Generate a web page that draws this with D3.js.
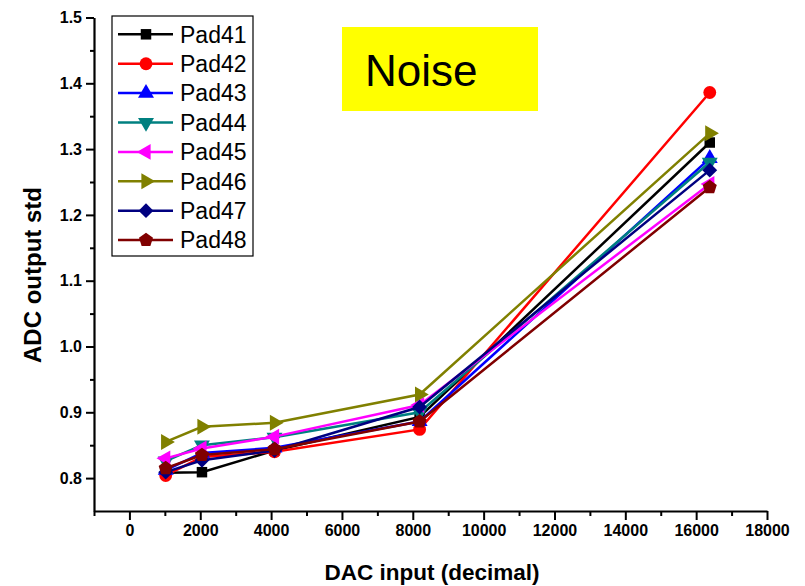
<!DOCTYPE html>
<html>
<head>
<meta charset="utf-8">
<script src="https://cdn.jsdelivr.net/npm/d3@7"></script>
<style>
  body { margin: 0; background: #fff; }
  text { font-family: "Liberation Sans", Arial, sans-serif; }
</style>
</head>
<body>
<div id="chart"></div>
<script>
// DAC input values
var dacInputs = [1024, 2048, 4096, 8192, 16384];

var padNames = ["Pad41", "Pad42", "Pad43", "Pad44", "Pad45", "Pad46", "Pad47", "Pad48"];
var pad41 = [0.808, 0.809, 0.842, 0.893, 1.310];
var pad42 = [0.804, 0.832, 0.840, 0.874, 1.386];
var pad43 = [0.812, 0.838, 0.846, 0.886, 1.286];
var pad44 = [0.826, 0.850, 0.862, 0.900, 1.280];
var pad45 = [0.830, 0.845, 0.863, 0.911, 1.247];
var pad46 = [0.855, 0.878, 0.884, 0.927, 1.324];
var pad47 = [0.809, 0.827, 0.842, 0.908, 1.268];
var pad48 = [0.815, 0.835, 0.844, 0.886, 1.242];
var padValues = [pad41, pad42, pad43, pad44, pad45, pad46, pad47, pad48];

var xTicks = [0, 2000, 4000, 6000, 8000, 10000, 12000, 14000, 16000, 18000];
var yTicks = [0.8, 0.9, 1.0, 1.1, 1.2, 1.3, 1.4, 1.5];

function init() {
    var width = 805;
    var height = 586;

    var colors = ["#000000", "#ff0000", "#0000ff", "#008080", "#ff00ff", "#808000", "#000080", "#800000"];

    // pentagon symbol (not in d3)
    var symbolPentagon = {
        draw: function (context, size) {
            var r = Math.sqrt(size / 2.378);
            for (var i = 0; i < 5; i++) {
                var a = -Math.PI / 2 + i * 2 * Math.PI / 5;
                if (i === 0) context.moveTo(r * Math.cos(a), r * Math.sin(a));
                else context.lineTo(r * Math.cos(a), r * Math.sin(a));
            }
            context.closePath();
        }
    };

    // marker type + rotation per pad
    var markers = [
        { type: d3.symbolSquare, rot: 0, size: 110 },
        { type: d3.symbolCircle, rot: 0, size: 130 },
        { type: d3.symbolTriangle, rot: 0, size: 110 },
        { type: d3.symbolTriangle, rot: 180, size: 110 },
        { type: d3.symbolTriangle, rot: -90, size: 110 },
        { type: d3.symbolTriangle, rot: 90, size: 110 },
        { type: d3.symbolSquare, rot: 45, size: 110 },
        { type: symbolPentagon, rot: 0, size: 130 }
    ];

    var x = d3.scaleLinear().domain([-1000, 18000]).range([94, 767]);
    var y = d3.scaleLinear().domain([0.75, 1.5]).range([511, 17.5]);

    var svg = d3.select("#chart")
        .append("svg")
        .attr("width", width)
        .attr("height", height);

    // Minor ticks
    svg.append("g")
        .attr("transform", "translate(0," + y(0.75) + ")")
        .call(d3.axisBottom(x).tickValues(d3.range(-1000, 18001, 2000)).tickSize(5).tickFormat(""))
        .call(function (g) { g.select(".domain").remove(); })
        .selectAll("line").attr("stroke-width", 2);
    svg.append("g")
        .attr("transform", "translate(" + x(-1000) + ",0)")
        .call(d3.axisLeft(y).tickValues(d3.range(0.85, 1.5, 0.1)).tickSize(4).tickFormat(""))
        .call(function (g) { g.select(".domain").remove(); })
        .selectAll("line").attr("stroke-width", 2);

    // X axis
    var xAxis = svg.append("g")
        .attr("transform", "translate(0," + y(0.75) + ")")
        .call(d3.axisBottom(x).tickValues(xTicks).tickSize(9).tickSizeOuter(0).tickPadding(5).tickFormat(d3.format("d")));
    xAxis.select(".domain").attr("stroke-width", 2.2);
    xAxis.selectAll("line").attr("stroke-width", 2);
    xAxis.selectAll("text")
        .attr("font-size", 16).attr("font-weight", "bold").attr("font-family", "Liberation Sans, Arial, sans-serif");

    // Y axis
    var yAxis = svg.append("g")
        .attr("transform", "translate(" + x(-1000) + ",0)")
        .call(d3.axisLeft(y).tickValues(yTicks).tickSize(8).tickSizeOuter(0).tickPadding(4).tickFormat(d3.format(".1f")));
    yAxis.select(".domain").attr("stroke-width", 2.2);
    yAxis.selectAll("line").attr("stroke-width", 2);
    yAxis.selectAll("text")
        .attr("font-size", 16).attr("font-weight", "bold").attr("font-family", "Liberation Sans, Arial, sans-serif");

    // Axis titles
    svg.append("text")
        .attr("x", 432).attr("y", 580)
        .attr("text-anchor", "middle")
        .attr("font-size", 22.5).attr("font-weight", "bold")
        .text("DAC input (decimal)");
    svg.append("text")
        .attr("transform", "translate(41,275) rotate(-90)")
        .attr("text-anchor", "middle")
        .attr("font-size", 24).attr("font-weight", "bold")
        .text("ADC output std");

    // Series
    var line = d3.line()
        .x(function (d) { return x(d[0]); })
        .y(function (d) { return y(d[1]); });

    padValues.forEach(function (vals, i) {
        var pts = dacInputs.map(function (d, j) { return [d, vals[j]]; });
        svg.append("path")
            .datum(pts)
            .attr("fill", "none")
            .attr("stroke", colors[i])
            .attr("stroke-width", 2.5)
            .attr("d", line);
        svg.selectAll(".m" + i)
            .data(pts)
            .enter()
            .append("path")
            .attr("class", "m" + i)
            .attr("transform", function (d) {
                return "translate(" + x(d[0]) + "," + y(d[1]) + ") rotate(" + markers[i].rot + ")";
            })
            .attr("d", d3.symbol().type(markers[i].type).size(markers[i].size))
            .attr("fill", colors[i]);
    });

    // Legend
    var legend = svg.append("g");
    legend.append("rect")
        .attr("x", 112).attr("y", 16)
        .attr("width", 141).attr("height", 240)
        .attr("fill", "#fff")
        .attr("stroke", "#000")
        .attr("stroke-width", 1.2);
    padNames.forEach(function (name, i) {
        var cy = 34.3 + i * 29.4;
        legend.append("line")
            .attr("x1", 118).attr("x2", 173)
            .attr("y1", cy).attr("y2", cy)
            .attr("stroke", colors[i]).attr("stroke-width", 2.5);
        legend.append("path")
            .attr("transform", "translate(146," + cy + ") rotate(" + markers[i].rot + ")")
            .attr("d", d3.symbol().type(markers[i].type).size(markers[i].size))
            .attr("fill", colors[i]);
        legend.append("text")
            .attr("x", 180).attr("y", cy)
            .attr("dy", "0.36em")
            .attr("font-size", 23)
            .text(name);
    });

    // Title box
    svg.append("rect")
        .attr("x", 342).attr("y", 27)
        .attr("width", 196).attr("height", 84)
        .attr("fill", "#ffff00");
    svg.append("text")
        .attr("x", 365).attr("y", 86)
        .attr("font-family", "Open Sans, Noto Sans, sans-serif")
        .attr("font-size", 44)
        .text("Noise");
}

window.onload = init;
</script>
</body>
</html>
